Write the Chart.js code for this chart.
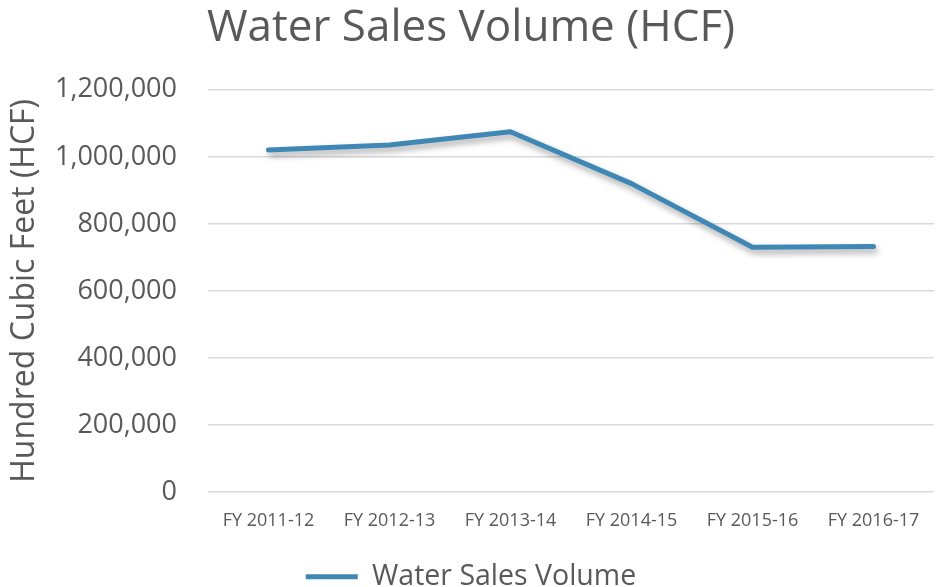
<!DOCTYPE html>
<html>
<head>
<meta charset="utf-8">
<script src="https://cdn.jsdelivr.net/npm/chart.js@4/dist/chart.umd.min.js"></script>
<style>
  html, body { margin: 0; padding: 0; background: #fff; }
  #wrap { width: 938px; height: 587px; }
</style>
</head>
<body>
<div id="wrap"><canvas id="myChart"></canvas></div>
<script>
const years = ['FY 2011-12', 'FY 2012-13', 'FY 2013-14', 'FY 2014-15', 'FY 2015-16', 'FY 2016-17'];
const salesVolume = [1020000, 1035000, 1075000, 920000, 730000, 732000];
const yTicks = [0, 200000, 400000, 600000, 800000, 1000000, 1200000];

const lineColor = '#3f88b5';
const textColor = '#595959';

// soft shadow under the line, like the office chart
const shadowPlugin = {
    id: 'lineShadow',
    beforeDatasetsDraw(chart) {
        const ctx = chart.ctx;
        ctx.save();
        ctx.shadowColor = 'rgba(0,0,0,0.35)';
        ctx.shadowBlur = 6;
        ctx.shadowOffsetX = 2;
        ctx.shadowOffsetY = 4;
    },
    afterDatasetsDraw(chart) {
        chart.ctx.restore();
    }
};

let data = {
    labels: years,
    datasets: [{
        label: 'Water Sales Volume',
        data: salesVolume,
        borderColor: lineColor,
        backgroundColor: lineColor,
        borderWidth: 5,
        borderCapStyle: 'round',
        borderJoinStyle: 'round',
        pointRadius: 0,
        pointStyle: 'line',
        tension: 0
    }]
};

let config = {
    type: 'line',
    data: data,
    plugins: [shadowPlugin],
    options: {
        responsive: true,
        maintainAspectRatio: false,
        animation: false,
        layout: { padding: { left: 6, right: 2, top: 0, bottom: -14 } },
        plugins: {
            title: {
                display: true,
                text: 'Water Sales Volume (HCF)',
                color: textColor,
                font: { family: 'Open Sans', size: 44, weight: 'normal' },
                padding: { top: 2, bottom: 35 }
            },
            legend: {
                position: 'bottom',
                labels: {
                    color: textColor,
                    font: { family: 'Open Sans', size: 28.5 },
                    usePointStyle: true,
                    pointStyleWidth: 52,
                    padding: 12
                }
            },
            tooltip: { enabled: false }
        },
        scales: {
            x: {
                offset: true,
                grid: { display: false, drawTicks: false },
                border: { display: false },
                ticks: {
                    color: textColor,
                    font: { family: 'Open Sans', size: 18 },
                    padding: 18.5,
                    maxRotation: 0
                }
            },
            y: {
                min: 0,
                max: 1200000,
                afterBuildTicks(axis) {
                    axis.ticks = yTicks.map(v => ({ value: v }));
                },
                afterFit(axis) {
                    axis.width = 202;
                },
                grid: { color: '#d9d9d9', lineWidth: 1.5, drawTicks: false },
                border: { display: false },
                title: {
                    display: true,
                    text: 'Hundred Cubic Feet (HCF)',
                    color: textColor,
                    font: { family: 'Open Sans', size: 32 },
                    padding: { top: 0, bottom: 0 }
                },
                ticks: {
                    color: textColor,
                    font: { family: 'Open Sans', size: 27 },
                    padding: 31,
                    callback: v => v.toLocaleString('en-US')
                }
            }
        }
    }
};

let myChart = new Chart(document.getElementById('myChart'), config);
</script>
</body>
</html>
